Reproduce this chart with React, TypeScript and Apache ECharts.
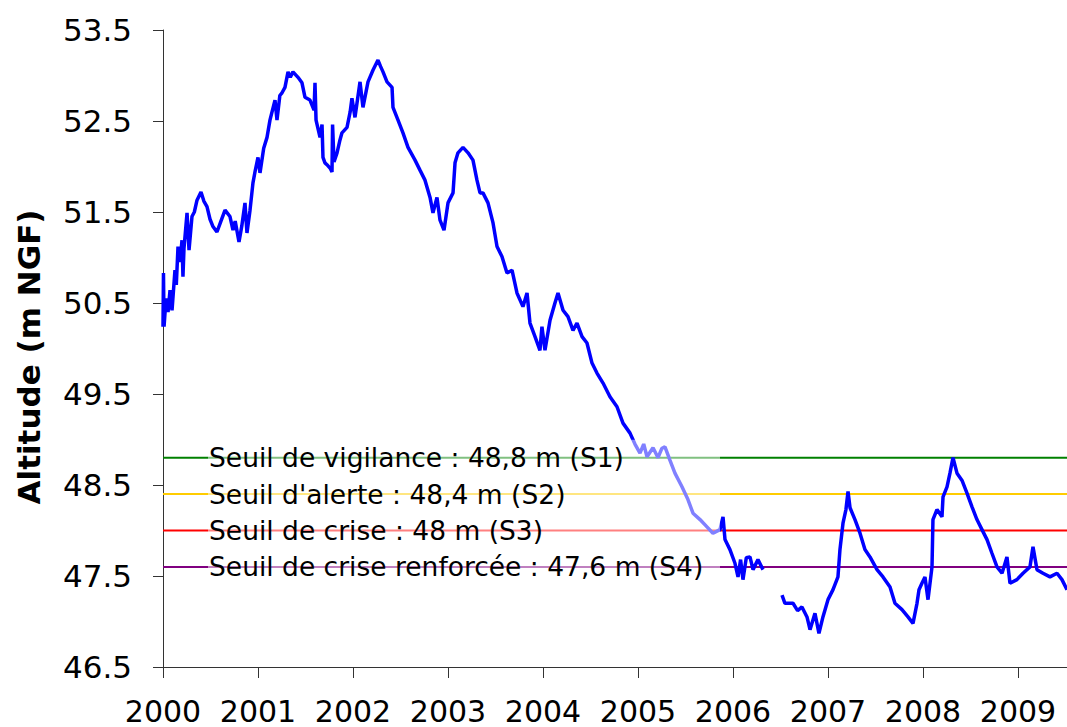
import React, { useEffect, useRef } from "react";
import * as echarts from "echarts";

// Decimal years and water levels (m NGF); null = data gap
const years = [
  2000.000, 2000.005, 2000.011, 2000.032, 2000.053, 2000.074, 2000.095, 2000.126, 2000.140, 2000.158,
  2000.180, 2000.200, 2000.210, 2000.221, 2000.253, 2000.274, 2000.305, 2000.330, 2000.358, 2000.400,
  2000.430, 2000.463, 2000.495, 2000.526, 2000.568, 2000.610, 2000.653, 2000.705, 2000.737, 2000.760,
  2000.800, 2000.830, 2000.863, 2000.884, 2000.916, 2000.947, 2000.970, 2001.000, 2001.021, 2001.060,
  2001.095, 2001.126, 2001.179, 2001.200, 2001.230, 2001.253, 2001.284, 2001.316, 2001.340, 2001.368,
  2001.421, 2001.463, 2001.495, 2001.547, 2001.590, 2001.600, 2001.611, 2001.653, 2001.674, 2001.684,
  2001.705, 2001.726, 2001.760, 2001.779, 2001.785, 2001.800, 2001.832, 2001.860, 2001.884, 2001.937,
  2001.970, 2001.989, 2002.021, 2002.074, 2002.105, 2002.158, 2002.211, 2002.263, 2002.290, 2002.316,
  2002.358, 2002.411, 2002.421, 2002.474, 2002.526, 2002.579, 2002.653, 2002.705, 2002.758, 2002.811,
  2002.842, 2002.884, 2002.916, 2002.958, 2003.000, 2003.053, 2003.074, 2003.105, 2003.158, 2003.211,
  2003.263, 2003.305, 2003.337, 2003.368, 2003.421, 2003.474, 2003.516, 2003.568, 2003.621, 2003.674,
  2003.726, 2003.789, 2003.832, 2003.863, 2003.916, 2003.968, 2003.989, 2004.021, 2004.074, 2004.126,
  2004.158, 2004.211, 2004.263, 2004.316, 2004.358, 2004.411, 2004.463, 2004.516, 2004.568, 2004.632,
  2004.705, 2004.779, 2004.842, 2004.916, 2004.968, 2005.021, 2005.060, 2005.095, 2005.158, 2005.211,
  2005.250, 2005.284, 2005.337, 2005.389, 2005.463, 2005.526, 2005.579, 2005.653, 2005.726, 2005.789,
  2005.863, 2005.895, 2005.916, 2005.968, 2006.021, 2006.053, 2006.080, 2006.105, 2006.140, 2006.179,
  2006.211, 2006.263, 2006.316, 2006.400,
  2006.516, 2006.547, 2006.632, 2006.680, 2006.726, 2006.779, 2006.811, 2006.863, 2006.905, 2006.947,
  2007.000, 2007.053, 2007.105, 2007.126, 2007.158, 2007.189, 2007.211, 2007.232, 2007.284, 2007.337,
  2007.389, 2007.442, 2007.516, 2007.579, 2007.653, 2007.705, 2007.779, 2007.842, 2007.895, 2007.937,
  2007.958, 2007.989, 2008.021, 2008.053, 2008.095, 2008.105, 2008.147, 2008.200, 2008.211, 2008.253,
  2008.284, 2008.316, 2008.358, 2008.411, 2008.463, 2008.516, 2008.568, 2008.621, 2008.674, 2008.726,
  2008.779, 2008.832, 2008.884, 2008.916, 2008.989, 2009.053, 2009.126, 2009.158, 2009.200, 2009.263,
  2009.337, 2009.411, 2009.463, 2009.516,
];
const levels: (number | null)[] = [
  50.24, 50.83, 50.24, 50.55, 50.40, 50.64, 50.42, 50.86, 50.70, 51.12,
  50.95, 51.19, 50.79, 51.10, 51.49, 51.08, 51.45, 51.50, 51.63, 51.72,
  51.62, 51.56, 51.42, 51.34, 51.28, 51.40, 51.52, 51.45, 51.30, 51.40,
  51.17, 51.35, 51.60, 51.27, 51.52, 51.82, 51.95, 52.10, 51.93, 52.20,
  52.32, 52.51, 52.73, 52.51, 52.78, 52.81, 52.87, 53.04, 52.98, 53.04,
  52.98, 52.92, 52.76, 52.73, 52.62, 52.92, 52.51, 52.32, 52.46, 52.10,
  52.04, 52.02, 51.98, 51.94, 52.46, 52.05, 52.15, 52.28, 52.37, 52.43,
  52.60, 52.75, 52.54, 52.93, 52.65, 52.93, 53.06, 53.17, 53.10, 53.04,
  52.93, 52.87, 52.65, 52.51, 52.37, 52.21, 52.07, 51.96, 51.85, 51.66,
  51.49, 51.66, 51.41, 51.30, 51.60, 51.71, 52.04, 52.15, 52.21, 52.15,
  52.07, 51.85, 51.71, 51.71, 51.60, 51.38, 51.12, 51.01, 50.83, 50.86,
  50.61, 50.46, 50.61, 50.28, 50.13, 49.98, 50.24, 49.98, 50.31, 50.50,
  50.61, 50.42, 50.35, 50.20, 50.28, 50.13, 50.06, 49.84, 49.73, 49.62,
  49.47, 49.36, 49.18, 49.07, 48.95, 48.85, 48.95, 48.81, 48.91, 48.80,
  48.90, 48.92, 48.77, 48.63, 48.48, 48.34, 48.19, 48.12, 48.04, 47.97,
  48.01, 48.15, 47.90, 47.79, 47.64, 47.49, 47.68, 47.46, 47.70, 47.71,
  47.57, 47.68, 47.57, null,
  47.29, 47.20, 47.20, 47.12, 47.16, 47.05, 46.91, 47.09, 46.87, 47.05,
  47.24, 47.35, 47.49, 47.79, 48.08, 48.23, 48.43, 48.25, 48.12, 47.97,
  47.79, 47.71, 47.57, 47.49, 47.38, 47.20, 47.13, 47.05, 46.98, 47.20,
  47.35, 47.42, 47.49, 47.24, 47.60, 48.12, 48.23, 48.15, 48.37, 48.48,
  48.63, 48.80, 48.63, 48.55, 48.41, 48.26, 48.12, 48.01, 47.90, 47.75,
  47.60, 47.53, 47.71, 47.42, 47.46, 47.53, 47.60, 47.82, 47.57, 47.53,
  47.49, 47.53, 47.46, 47.35,
];

const thresholdValues = [48.8, 48.4, 48.0, 47.6];
const thresholdColors = ["#008000", "#ffcc00", "#ff0000", "#800080"];
const thresholdLabels = [
  "Seuil de vigilance : 48,8 m (S1)",
  "Seuil d'alerte : 48,4 m (S2)",
  "Seuil de crise : 48 m (S3)",
  "Seuil de crise renforcée : 47,6 m (S4)",
];
const yAxisTitle = "Altitude (m NGF)";

const X_MIN = 2000;
const X_MAX = 2009.516;
const Y_MIN = 46.5;
const Y_MAX = 53.5;

const FONT = "'DejaVu Sans', Verdana, sans-serif";

export default function App() {
  const ref = useRef<HTMLDivElement>(null);

  useEffect(() => {
    if (!ref.current) return;
    const chart = echarts.init(ref.current, undefined, { renderer: "svg" });

    const thresholdSeries = thresholdValues.map((v, i) => ({
      type: "line",
      name: thresholdLabels[i],
      data: [
        [X_MIN, v],
        [X_MAX, v],
      ],
      showSymbol: false,
      symbol: "none",
      lineStyle: { color: thresholdColors[i], width: 2 },
      z: 1,
      silent: true,
    }));

    chart.setOption({
      animation: false,
      grid: { left: 163, right: 0, top: 30, bottom: 60, containLabel: false },
      xAxis: {
        type: "value",
        min: X_MIN,
        max: X_MAX,
        interval: 1,
        axisLine: { show: true, lineStyle: { color: "#333", width: 1 } },
        axisTick: { show: true, length: 11, lineStyle: { color: "#333" } },
        axisLabel: {
          showMaxLabel: false,
          color: "#000",
          fontSize: 30,
          fontFamily: FONT,
          margin: 29,
          formatter: (v: number) => String(Math.round(v)),
        },
        splitLine: { show: false },
      },
      yAxis: {
        type: "value",
        min: Y_MIN,
        max: Y_MAX,
        interval: 1,
        axisLine: { show: true, lineStyle: { color: "#333", width: 1 } },
        axisTick: { show: true, length: 10, lineStyle: { color: "#333" } },
        axisLabel: {
          color: "#000",
          fontSize: 31,
          fontFamily: FONT,
          margin: 31,
          formatter: (v: number) => v.toFixed(1),
        },
        splitLine: { show: false },
      },
      series: [
        ...thresholdSeries,
        {
          type: "line",
          name: "Niveau",
          data: years.map((y, i) => [y, levels[i] === null ? "-" : levels[i]]),
          showSymbol: false,
          symbol: "none",
          connectNulls: false,
          lineStyle: { color: "#0000ff", width: 3.5 },
          z: 3,
        },
      ],
    });

    const leftPx = chart.convertToPixel({ gridIndex: 0 }, [X_MIN, Y_MIN])[0];
    const ys = thresholdValues.map(
      (v) => chart.convertToPixel({ gridIndex: 0 }, [X_MIN, v])[1]
    );
    const boxLeft = leftPx + 45;
    const boxRight = leftPx + 557;
    const boxTop = ys[0] - 18;
    const boxBottom = ys[ys.length - 1] + 18;

    chart.setOption({
      graphic: [
        {
          type: "rect",
          z: 100,
          silent: true,
          shape: { x: boxLeft, y: boxTop, width: boxRight - boxLeft, height: boxBottom - boxTop },
          style: { fill: "rgba(255,255,255,0.5)" },
        },
        ...thresholdLabels.map((t, i) => ({
          type: "text",
          z: 101,
          silent: true,
          x: leftPx + 46,
          y: ys[i],
          style: {
            text: t,
            fill: "#000",
            fontSize: 26.5,
            fontFamily: FONT,
            align: "left",
            verticalAlign: "middle",
          },
        })),
        {
          type: "text",
          z: 101,
          silent: true,
          x: 29,
          y: 357,
          rotation: Math.PI / 2,
          style: {
            text: yAxisTitle,
            fill: "#000",
            fontSize: 31,
            fontWeight: "bold",
            fontFamily: FONT,
            align: "center",
            verticalAlign: "middle",
          },
        },
      ],
    });

    return () => chart.dispose();
  }, []);

  return (
    <div
      ref={ref}
      style={{ position: "absolute", left: 0, top: 0, width: 1067, height: 727, background: "#fff" }}
    />
  );
}
